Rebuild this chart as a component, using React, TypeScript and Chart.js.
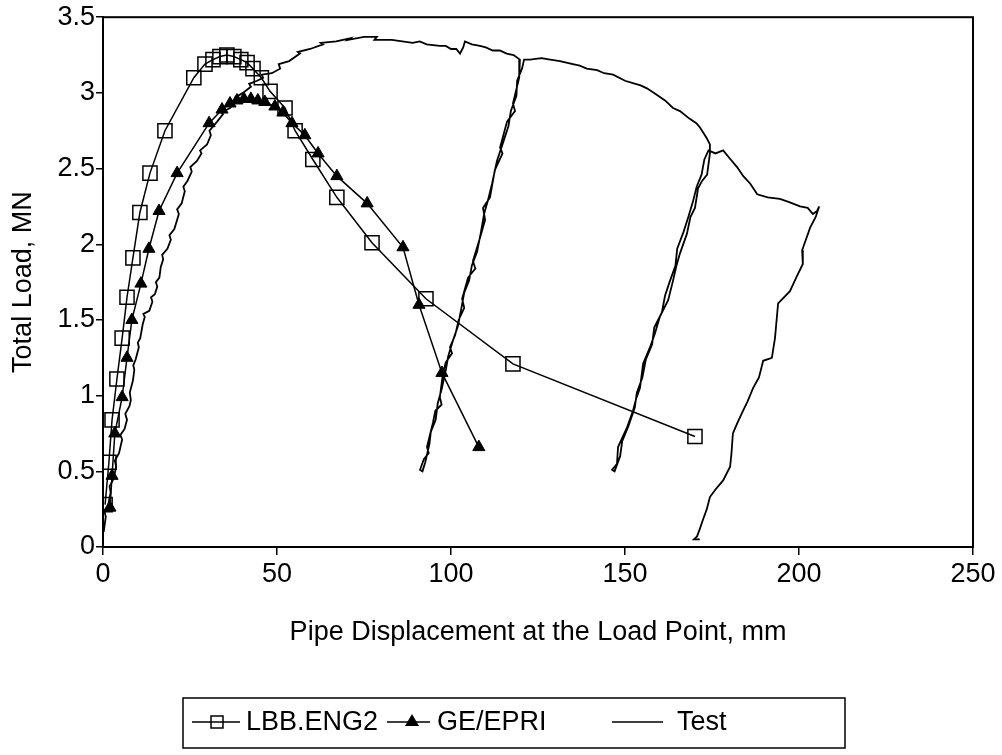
import React, { useEffect, useRef } from 'react';
import { Chart, registerables } from 'chart.js';

Chart.register(...registerables);

const FONT = "'Liberation Sans', Arial, Helvetica, sans-serif";

const xTickValues = [0, 50, 100, 150, 200, 250];
const yTickValues = [0, 0.5, 1, 1.5, 2, 2.5, 3, 3.5];
const xTitle = 'Pipe Displacement at the Load Point, mm';
const yTitle = 'Total Load, MN';
const seriesNames = ['LBB.ENG2', 'GE/EPRI', 'Test'];

const lbbX = [0.6, 1.7, 2.6, 4.0, 5.5, 6.9, 8.6, 10.6, 13.5, 17.8, 26.1, 29.3, 31.6, 33.6, 35.6, 37.6, 39.6, 41.4, 43.1, 45.5, 48.0, 52.3, 55.2, 60.3, 67.2, 77.3, 92.8, 117.8, 170.1];
const lbbY = [0.28, 0.56, 0.84, 1.11, 1.38, 1.65, 1.91, 2.21, 2.47, 2.75, 3.10, 3.19, 3.22, 3.24, 3.25, 3.24, 3.22, 3.20, 3.16, 3.10, 3.01, 2.90, 2.75, 2.56, 2.31, 2.01, 1.64, 1.21, 0.73];

const geX = [2.0, 2.6, 3.4, 5.5, 6.9, 8.3, 10.9, 13.2, 16.1, 21.3, 30.5, 34.2, 36.5, 38.5, 40.5, 42.5, 44.5, 46.5, 49.4, 51.7, 54.3, 58.0, 61.8, 67.2, 75.9, 86.2, 90.8, 97.4, 108.0];
const geY = [0.26, 0.47, 0.75, 0.99, 1.25, 1.50, 1.74, 1.97, 2.22, 2.47, 2.80, 2.89, 2.93, 2.95, 2.96, 2.96, 2.95, 2.94, 2.91, 2.87, 2.80, 2.72, 2.60, 2.45, 2.27, 1.98, 1.60, 1.15, 0.66];

// Test record, in the order it was measured (loading, unload/reload cycles)
const testX = [
  0.2, 0.8, 0.4, 1.5, 2.2, 1.9, 3.0, 3.8, 3.4, 4.6, 5.5, 5.0, 6.2, 6.9, 6.4, 7.6, 8.0, 7.7, 8.6, 9.0, 8.7, 9.4, 10.3, 10.0, 10.7, 11.4, 12.0, 11.6, 13.3, 14.2, 13.8, 14.9, 15.6, 15.2, 16.2, 16.6, 17.3, 17.0, 18.5, 19.5, 19.1, 20.5, 21.8, 21.3, 22.6, 23.5, 23.1, 24.3, 25.5, 25.1, 27.0, 28.3, 27.9, 29.9, 31.0, 30.6, 32.8, 34.5, 34.0, 36.5, 38.4, 38.0, 40.2, 42.5, 42.0, 44.3, 46.0, 45.6, 48.5, 50.9, 50.5, 53.5, 56.6, 56.0, 59.5, 63.2, 62.6, 67.0, 71.0, 70.4, 75.0, 78.7, 78.0, 83.0, 86.0, 89.0, 91.0, 93.0, 96.8, 98.5, 100.0, 101.5, 102.6, 103.5, 104.0, 106.0, 108.3, 110.0, 112.0, 114.0, 116.0, 118.0, 119.8,
  119.6, 117.8, 118.4, 116.1, 114.1, 114.8, 112.6, 111.2, 109.2, 109.8, 108.3, 106.3, 107.0, 104.9, 103.2, 103.8, 102.2, 101.2, 99.7, 100.3, 98.5, 97.7, 96.8, 97.3, 95.5, 94.8, 93.1, 93.6, 92.2, 91.1,
  91.8, 92.6, 93.8, 94.2, 95.6, 96.2, 97.4, 98.6, 99.2, 100.5, 102.0, 103.0, 103.8, 105.2, 106.0, 107.5, 108.6, 109.5, 110.5, 111.8, 113.2, 114.8, 116.5, 117.2, 118.8, 119.0, 120.4, 121.0,
  122.7, 126.0, 128.5, 131.3, 135.0, 137.0, 139.0, 142.0, 144.0, 146.6, 150.0, 153.0, 154.5, 156.3, 159.0, 161.5, 163.8, 165.8, 168.5, 170.5, 171.6, 173.5, 174.4,
  174.4, 173.6, 172.2, 171.0, 170.1, 168.8, 167.8, 165.8, 164.8, 163.8, 162.4, 160.0, 158.6, 157.2, 155.2, 154.3, 153.2, 152.3, 150.6, 148.0, 147.7, 146.3,
  147.0, 148.6, 149.2, 151.0, 152.8, 153.4, 155.0, 156.0, 157.8, 158.4, 160.6, 161.5, 162.8, 164.5, 165.0, 166.8, 168.2, 169.5, 170.6, 172.0, 172.8, 174.0, 176.0, 178.2,
  180.0, 182.2, 184.0, 186.0, 188.0, 191.0, 194.5, 197.0, 200.3, 202.5, 204.0, 205.2, 205.8, 204.8,
  203.2, 200.9, 201.1, 199.2, 197.4, 194.0, 193.1, 192.2, 189.7, 188.5, 186.8, 185.2, 183.9, 182.3, 181.0, 180.6, 180.2, 178.2, 176.0, 174.4, 173.5, 172.4, 171.5, 170.7, 169.8, 171.5
];
const testY = [
  0.10, 0.20, 0.24, 0.28, 0.36, 0.40, 0.45, 0.53, 0.57, 0.62, 0.71, 0.74, 0.78, 0.84, 0.88, 0.93, 0.97, 1.02, 1.10, 1.17, 1.20, 1.24, 1.32, 1.35, 1.38, 1.47, 1.52, 1.54, 1.56, 1.62, 1.65, 1.67, 1.72, 1.75, 1.78, 1.85, 1.90, 1.93, 1.97, 2.03, 2.06, 2.10, 2.20, 2.23, 2.27, 2.35, 2.38, 2.42, 2.48, 2.51, 2.55, 2.60, 2.62, 2.66, 2.72, 2.75, 2.81, 2.86, 2.87, 2.90, 2.95, 2.97, 3.00, 3.04, 3.06, 3.08, 3.10, 3.12, 3.13, 3.16, 3.19, 3.21, 3.26, 3.27, 3.29, 3.32, 3.33, 3.34, 3.36, 3.35, 3.37, 3.37, 3.35, 3.35, 3.34, 3.33, 3.34, 3.32, 3.31, 3.31, 3.29, 3.29, 3.26, 3.30, 3.34, 3.32, 3.31, 3.30, 3.28, 3.28, 3.26, 3.25, 3.22,
  3.10, 2.93, 2.88, 2.81, 2.64, 2.60, 2.49, 2.31, 2.24, 2.16, 2.04, 1.89, 1.84, 1.78, 1.64, 1.58, 1.50, 1.40, 1.32, 1.28, 1.22, 1.15, 0.99, 0.94, 0.90, 0.82, 0.66, 0.62, 0.58, 0.51,
  0.50, 0.56, 0.68, 0.76, 0.84, 0.95, 1.05, 1.18, 1.26, 1.36, 1.46, 1.58, 1.68, 1.76, 1.86, 1.95, 2.08, 2.20, 2.28, 2.40, 2.55, 2.66, 2.78, 2.88, 2.98, 3.08, 3.16, 3.22,
  3.22, 3.23, 3.22, 3.21, 3.19, 3.18, 3.16, 3.15, 3.13, 3.12, 3.08, 3.06, 3.05, 3.03, 2.99, 2.95, 2.90, 2.88, 2.83, 2.80, 2.77, 2.70, 2.66,
  2.60, 2.46, 2.42, 2.37, 2.24, 2.18, 2.07, 1.94, 1.86, 1.76, 1.63, 1.52, 1.41, 1.32, 1.21, 1.05, 0.98, 0.90, 0.79, 0.66, 0.55, 0.51,
  0.50, 0.60, 0.70, 0.80, 0.92, 1.02, 1.12, 1.24, 1.34, 1.45, 1.55, 1.66, 1.75, 1.86, 1.97, 2.08, 2.18, 2.28, 2.38, 2.46, 2.56, 2.62, 2.60, 2.62,
  2.57, 2.51, 2.45, 2.40, 2.33, 2.31, 2.30, 2.28, 2.25, 2.24, 2.20, 2.22, 2.25, 2.18,
  2.11, 1.96, 1.87, 1.78, 1.69, 1.61, 1.38, 1.25, 1.23, 1.12, 1.05, 0.96, 0.90, 0.82, 0.75, 0.62, 0.53, 0.44, 0.38, 0.33, 0.25, 0.18, 0.12, 0.07, 0.05, 0.05
];

const toPoints = (xs: number[], ys: number[]) => xs.map((x, i) => ({ x, y: ys[i] }));

const framePlugin = {
  id: 'frame',
  afterDraw(chart: any) {
    const { ctx, chartArea: a } = chart;
    ctx.save();
    ctx.strokeStyle = '#000';
    ctx.lineWidth = 2;
    ctx.strokeRect(a.left, a.top, a.right - a.left, a.bottom - a.top);
    ctx.restore();
  },
};

const legendPlugin = {
  id: 'boxLegend',
  afterDraw(chart: any) {
    const ctx = chart.ctx;
    ctx.save();
    ctx.strokeStyle = '#000';
    ctx.lineWidth = 1.5;
    ctx.strokeRect(183, 698, 662, 50);
    const cy = 722;
    ctx.lineWidth = 1.5;
    // item 1
    ctx.beginPath(); ctx.moveTo(192, cy); ctx.lineTo(240, cy); ctx.stroke();
    ctx.strokeRect(211, cy - 6, 12, 12);
    // item 2
    ctx.beginPath(); ctx.moveTo(387, cy); ctx.lineTo(430, cy); ctx.stroke();
    ctx.fillStyle = '#000';
    ctx.beginPath(); ctx.moveTo(412, cy - 8); ctx.lineTo(419, cy + 4); ctx.lineTo(405, cy + 4); ctx.closePath(); ctx.fill();
    // item 3
    ctx.beginPath(); ctx.moveTo(612, cy); ctx.lineTo(663, cy); ctx.stroke();
    ctx.font = `27px ${FONT}`;
    ctx.textBaseline = 'middle';
    ctx.textAlign = 'left';
    ctx.fillStyle = '#000';
    ctx.fillText(seriesNames[0], 246, cy + 1);
    ctx.fillText(seriesNames[1], 437, cy + 1);
    ctx.fillText(seriesNames[2], 677, cy + 1);
    ctx.restore();
  },
};

export default function App() {
  const ref = useRef<HTMLCanvasElement | null>(null);
  useEffect(() => {
    if (!ref.current) return;
    const chart = new Chart(ref.current, {
      type: 'scatter',
      data: {
        datasets: [
          {
            label: seriesNames[0],
            data: toPoints(lbbX, lbbY),
            showLine: true,
            borderColor: '#000',
            borderWidth: 1.5,
            pointStyle: 'rect',
            pointRadius: 10,
            pointHoverRadius: 10,
            pointBorderWidth: 1.5,
            pointBorderColor: '#000',
            pointBackgroundColor: 'rgba(0,0,0,0)',
            backgroundColor: 'rgba(0,0,0,0)',
          },
          {
            label: seriesNames[1],
            data: toPoints(geX, geY),
            showLine: true,
            borderColor: '#000',
            borderWidth: 1.5,
            pointStyle: 'triangle',
            pointRadius: 7,
            pointHoverRadius: 7,
            pointBorderWidth: 1,
            pointBorderColor: '#000',
            pointBackgroundColor: '#000',
            backgroundColor: '#000',
          },
          {
            label: seriesNames[2],
            data: toPoints(testX, testY),
            showLine: true,
            borderColor: '#000',
            borderWidth: 1.8,
            pointRadius: 0,
            pointHoverRadius: 0,
            backgroundColor: 'rgba(0,0,0,0)',
          },
        ],
      },
      options: {
        responsive: false,
        animation: false,
        events: [],
        layout: { padding: { left: 0, top: 16, right: 29, bottom: 98 } },
        plugins: { legend: { display: false }, tooltip: { enabled: false }, title: { display: false } },
        scales: {
          x: {
            type: 'linear',
            min: 0,
            max: 250,
            afterFit: (s: any) => { s.height = 110; },
            afterBuildTicks: (s: any) => { s.ticks = xTickValues.map((v) => ({ value: v })); },
            ticks: { color: '#000', font: { family: FONT, size: 27 }, padding: 3, maxRotation: 0, autoSkip: false, callback: (v: any) => String(v) },
            grid: { display: true, drawOnChartArea: false, drawTicks: true, tickLength: 8, color: '#000', lineWidth: 1.5 },
            border: { display: true, color: '#000', width: 2 },
            title: { display: true, text: xTitle, color: '#000', font: { family: FONT, size: 27 }, padding: { top: 0, bottom: 8 } },
          },
          y: {
            type: 'linear',
            min: 0,
            max: 3.5,
            afterFit: (s: any) => { s.width = 103; },
            afterBuildTicks: (s: any) => { s.ticks = yTickValues.map((v) => ({ value: v })); },
            ticks: { color: '#000', font: { family: FONT, size: 27 }, padding: 1, autoSkip: false, callback: (v: any) => String(v) },
            grid: { display: true, drawOnChartArea: false, drawTicks: true, tickLength: 7, color: '#000', lineWidth: 1.5 },
            border: { display: true, color: '#000', width: 2 },
            title: { display: true, text: yTitle, color: '#000', font: { family: FONT, size: 27 }, padding: { top: 7, bottom: 0 } },
          },
        },
      },
      plugins: [framePlugin, legendPlugin],
    });
    return () => chart.destroy();
  }, []);
  return (
    <div style={{ position: 'fixed', left: 0, top: 0, width: 1002, height: 755, background: '#fff' }}>
      <canvas ref={ref} width={1002} height={755} style={{ display: 'block' }} />
    </div>
  );
}
